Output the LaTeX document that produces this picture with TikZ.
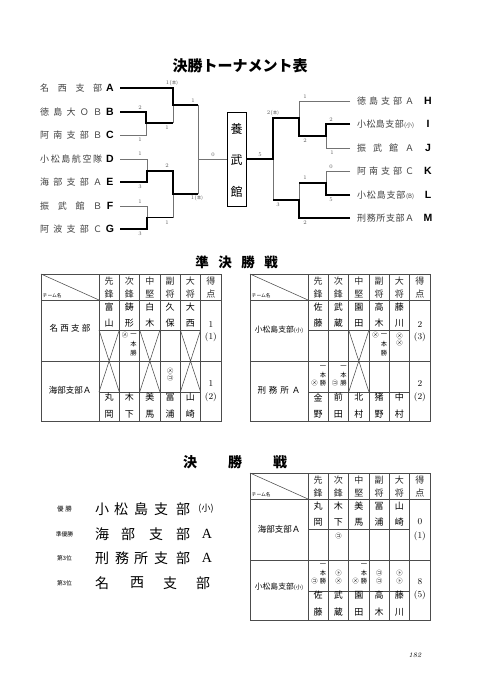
\documentclass[tikz,border=0pt]{standalone}
\usepackage{fontspec}
\newfontfamily\jp{Noto Sans CJK JP}
\newfontfamily\lsb{Liberation Sans}
\newfontfamily\lser{Liberation Serif}
\newcommand\fs[1]{\fontsize{#1}{#1}\selectfont}
\newcommand\tgrid{%
  \draw[tl] (0,0) rectangle (180,147);
  \foreach \x in {58,78.33,98.67,119,139.33,159.67} {\draw[tl] (\x,0) -- (\x,147);}
  \draw[tl] (0,26) -- (180,26) (0,87) -- (180,87) (58,56) -- (159.67,56) (58,118) -- (159.67,118);
  \draw[tl] (0,0) -- (58,26);
  \node[anchor=south west, inner sep=0.5pt, font=\jp\fs{4.8}] at (1,25) {チーム名};
  \foreach \a/\b [count=\i] in {先/鋒,次/鋒,中/堅,副/将,大/将,得/点} {
    \node[hc] at ({58+20.33*(\i-0.5)},7.5) {\a};
    \node[hc] at ({58+20.33*(\i-0.5)},20) {\b};
  }%
}
\newcommand\tnames[2]{%
  \foreach \a/\b [count=\i] in {#2} {
    \node[nc] at ({58+20.33*(\i-0.5)},#1) {\a};
    \node[nc] at ({58+20.33*(\i-0.5)},{#1+16.5}) {\b};
  }%
}
\newcommand\xmk[1]{\draw[tl] ({58+20.33*(#1-1)},56) -- ({58+20.33*#1},118) ({58+20.33*#1},56) -- ({58+20.33*(#1-1)},118);}
\begin{document}
\begin{tikzpicture}[x=1pt,y=-1pt,
  win/.style={line width=1.7pt, black, line join=miter},
  lose/.style={line width=0.7pt, black!55},
  tl/.style={line width=0.55pt, black!70},
  lb/.style={font=\fs{5.5}, text=black!65, inner sep=0},
  nm/.style={font=\jp\fs{9}, text=black!75, inner sep=0, anchor=west},
  teamlet/.style={font=\lsb\bfseries\fs{10.5}, inner sep=0},
  hc/.style={font=\jp\fs{9}, text=black!85, inner sep=0},
  nc/.style={font=\jp\fs{9}, inner sep=0},
  mk/.style={font=\jp\fs{6.3}, inner sep=0},
  sc/.style={font=\fs{9}, inner sep=0},
  tn/.style={font=\jp\fs{8.5}, inner sep=0},
  big/.style={font=\jp\fs{14}, inner sep=0},
  sml/.style={font=\jp\fs{5.8}, inner sep=0},
  ttl/.style={font=\jp\bfseries\fs{13.5}, inner sep=0},
]
\useasboundingbox[fill=white] (0,0) rectangle (480,689);

% ---------- title ----------
\node[font=\jp\bfseries\fs{15}, inner sep=0] (title) at (240,66) {決勝トーナメント表};

% ---------- left teams ----------
\node[nm] (nA) at (40,88)  {\makebox[62pt]{名\hfill 西\hfill 支\hfill 部}};
\node[nm] (nB) at (40,112) {\makebox[62pt]{徳\hfill 島\hfill 大\hfill Ｏ\hfill Ｂ}};
\node[nm] (nC) at (40,135) {\makebox[62pt]{阿\hfill 南\hfill 支\hfill 部\hfill Ｂ}};
\node[nm] (nD) at (40,159) {\makebox[62pt]{小\hfill 松\hfill 島\hfill 航\hfill 空\hfill 隊}};
\node[nm] (nE) at (40,182) {\makebox[62pt]{海\hfill 部\hfill 支\hfill 部\hfill Ａ}};
\node[nm] (nF) at (40,206) {\makebox[62pt]{振\hfill 武\hfill 館\hfill Ｂ}};
\node[nm] (nG) at (40,229) {\makebox[62pt]{阿\hfill 波\hfill 支\hfill 部\hfill Ｃ}};
\node[teamlet] (lA) at (110,88) {A};
\node[teamlet] (lB) at (110,112) {B};
\node[teamlet] (lC) at (110,135) {C};
\node[teamlet] (lD) at (110,159) {D};
\node[teamlet] (lE) at (110,182) {E};
\node[teamlet] (lF) at (110,206) {F};
\node[teamlet] (lG) at (110,229) {G};

% ---------- right teams ----------
\node[nm] (nH) at (357,101) {\makebox[57pt]{徳\hfill 島\hfill 支\hfill 部\hfill Ａ}};
\node[nm] (nI) at (357,124) {\makebox[57pt]{小\hfill 松\hfill 島\hfill 支\hfill 部\hfill {\fs{6}(小)}}};
\node[nm] (nJ) at (357,148) {\makebox[57pt]{振\hfill 武\hfill 館\hfill Ａ}};
\node[nm] (nK) at (357,171) {\makebox[57pt]{阿\hfill 南\hfill 支\hfill 部\hfill Ｃ}};
\node[nm] (nL) at (357,195) {\makebox[57pt]{小\hfill 松\hfill 島\hfill 支\hfill 部\hfill {\fs{6}(B)}}};
\node[nm] (nM) at (357,218) {\makebox[57pt]{刑\hfill 務\hfill 所\hfill 支\hfill 部\hfill Ａ}};
\node[teamlet] (lH) at (428,101) {H};
\node[teamlet] (lI) at (428,124) {I};
\node[teamlet] (lJ) at (428,148) {J};
\node[teamlet] (lK) at (428,171) {K};
\node[teamlet] (lL) at (428,195) {L};
\node[teamlet] (lM) at (428,218) {M};

% ---------- center box ----------
\node[draw, line width=0.6pt, minimum width=19pt, minimum height=94pt, inner sep=0] (box) at (236.5,159) {};
\node[font=\jp\fs{12}, inner sep=0] (b1) at (236.5,129) {養};
\node[font=\jp\fs{12}, inner sep=0] (b2) at (236.5,160) {武};
\node[font=\jp\fs{12}, inner sep=0] (b3) at (236.5,192) {館};

% ---------- left bracket ----------
\draw[lose] (173,105) -- (173,123);
\draw[lose] (120,135) -- (146,135) -- (146,123);
\draw[lose] (120,159) -- (147,159) -- (147,171);
\draw[lose] (120,206) -- (147,206) -- (147,217.5);
\draw[lose] (173,217.5) -- (173,194);
\draw[lose] (198,105) -- (198,194);
\draw[lose] (198,159) -- (box.west);
\draw[win] (120,88) -- (173,88) -- (173,105) -- (198,105);
\draw[win] (120,112) -- (146,112) -- (146,123) -- (173,123);
\draw[win] (120,182) -- (147,182) -- (147,171) -- (173,171) -- (173,194) -- (198,194);
\draw[win] (120,229) -- (147,229) -- (147,217.5) -- (173,217.5);

\node[lb] at (172,83) {1(\jp\fs{4.5}本)};
\node[lb] at (140,108) {2};
\node[lb] at (140,140) {1};
\node[lb] at (167,128) {1};
\node[lb] at (193,101) {1};
\node[lb] at (140,154) {1};
\node[lb] at (140,187) {3};
\node[lb] at (167,166) {2};
\node[lb] at (140,202) {1};
\node[lb] at (140,234) {3};
\node[lb] at (167,223) {1};
\node[lb] at (197,198) {1(\jp\fs{4.5}本)};
\node[lb] at (213,155) {0};

% ---------- right bracket ----------
\draw[lose] (350,101) -- (299,101) -- (299,118);
\draw[lose] (350,148) -- (326,148) -- (326,136);
\draw[lose] (350,171) -- (326,171) -- (326,183);
\draw[lose] (299,183) -- (299,200);
\draw[lose] (273,159) -- (273,200);
\draw[win] (350,124) -- (326,124) -- (326,136) -- (299,136) -- (299,118) -- (273,118) -- (273,159) -- (box.east);
\draw[win] (350,195) -- (326,195) -- (326,183) -- (299,183);
\draw[win] (350,218) -- (299,218) -- (299,200) -- (273,200);

\node[lb] at (273,113) {2(\jp\fs{4.5}本)};
\node[lb] at (260,155) {5};
\node[lb] at (305,97) {1};
\node[lb] at (331,120) {2};
\node[lb] at (332,153) {1};
\node[lb] at (305,141) {2};
\node[lb] at (331,167) {0};
\node[lb] at (331,200) {5};
\node[lb] at (305,178) {1};
\node[lb] at (278,205) {3};
\node[lb] at (305,223) {2};

% ---------- semifinal title ----------
\node[ttl] (s1) at (202,262) {準};
\node[ttl] (s2) at (225,262) {決};
\node[ttl] (s3) at (248,262) {勝};
\node[ttl] (s4) at (271,262) {戦};

% ---------- semifinal left ----------
\begin{scope}[shift={(41,274)}]
  \tgrid
  \tnames{33}{富/山,鋳/形,白/木,久/保,大/西}
  \tnames{123.5}{丸/岡,木/下,美/馬,冨/浦,山/崎}
  \xmk{1}\xmk{3}\xmk{5}
  \node[mk] at (84,61) {㋱};
  \node[mk] at (92.5,61) {一};
  \node[mk] at (92.5,70) {本};
  \node[mk] at (92.5,79) {勝};
  \node[mk] at (129.17,97) {㋱};
  \node[mk] at (129.17,104.5) {㋙};
  \node[tn] (t1) at (29,54) {\makebox[41pt]{名\hfill 西\hfill 支\hfill 部}};
  \node[tn] (t2) at (29,116) {海部支部Ａ};
  \node[sc] at (169.83,50) {1};
  \node[sc] at (169.83,63) {(1)};
  \node[sc] at (169.83,109) {1};
  \node[sc] at (169.83,123) {(2)};
\end{scope}

% ---------- semifinal right ----------
\begin{scope}[shift={(250,274)}]
  \tgrid
  \tnames{33}{佐/藤,武/蔵,園/田,高/木,藤/川}
  \tnames{123.5}{金/野,前/田,北/村,猪/野,中/村}
  \xmk{3}
  \node[mk] at (125.5,61) {㋱};
  \node[mk] at (134,61) {一};
  \node[mk] at (134,70) {本};
  \node[mk] at (134,79) {勝};
  \node[mk] at (149.5,62) {㋱};
  \node[mk] at (149.5,69.5) {㋱};
  \node[mk] at (73,93) {一};
  \node[mk] at (73,101) {本};
  \node[mk] at (64.5,109) {㋱};
  \node[mk] at (73,109) {勝};
  \node[mk] at (93.5,93) {一};
  \node[mk] at (93.5,101) {本};
  \node[mk] at (85,109) {㋙};
  \node[mk] at (93.5,109) {勝};
  \node[tn] (t3) at (29,56) {\fs{7.8}小松島支部{\fs{5.5}(小)}};
  \node[tn] (t4) at (29,116) {\makebox[43pt]{刑\hfill 務\hfill 所\hfill Ａ}};
  \node[sc] at (169.83,50) {2};
  \node[sc] at (169.83,63) {(3)};
  \node[sc] at (169.83,109) {2};
  \node[sc] at (169.83,123) {(2)};
\end{scope}

% ---------- final title ----------
\node[font=\jp\bfseries\fs{14}, inner sep=0] (f1) at (190,462) {決};
\node[font=\jp\bfseries\fs{14}, inner sep=0] (f2) at (235,462) {勝};
\node[font=\jp\bfseries\fs{14}, inner sep=0] (f3) at (280,462) {戦};

% ---------- final table ----------
\begin{scope}[shift={(250,473)}]
  \tgrid
  \tnames{33}{丸/岡,木/下,美/馬,冨/浦,山/崎}
  \tnames{122.5}{佐/藤,武/蔵,園/田,高/木,藤/川}
  \node[mk] at (88.5,63) {㋙};
  \node[mk] at (73,92) {一};
  \node[mk] at (73,100) {本};
  \node[mk] at (64.5,108) {㋙};
  \node[mk] at (73,108) {勝};
  \node[mk] at (88.5,100.5) {㋣};
  \node[mk] at (88.5,108) {㋱};
  \node[mk] at (114,92) {一};
  \node[mk] at (114,100) {本};
  \node[mk] at (105.5,108) {㋱};
  \node[mk] at (114,108) {勝};
  \node[mk] at (129.17,100.5) {㋙};
  \node[mk] at (129.17,108) {㋙};
  \node[mk] at (149.5,100.5) {㋣};
  \node[mk] at (149.5,108) {㋣};
  \node[tn] (t5) at (29,56) {海部支部Ａ};
  \node[tn] (t6) at (29,114) {\fs{7.8}小松島支部{\fs{5.5}(小)}};
  \node[sc] at (169.83,49) {0};
  \node[sc] at (169.83,63) {(1)};
  \node[sc] at (169.83,109) {8};
  \node[sc] at (169.83,122) {(5)};
\end{scope}

% ---------- results list ----------
\node[font=\jp\fs{6.5}, inner sep=0] (r1l) at (64.5,509) {\makebox[15pt]{優\hfill 勝}};
\node[sml] (r2l) at (64.5,534) {準優勝};
\node[sml] (r3l) at (64.5,558) {第3位};
\node[sml] (r4l) at (64.5,583) {第3位};

\foreach \c/\x in {小/102,松/121,島/141,支/161,部/183} {\node[big] at (\x,509) {\c};}
\node[font=\jp\fs{9}, inner sep=0] at (206,509) {(小)};
\foreach \c/\x in {海/102,部/128,支/156,部/183} {\node[big] at (\x,534) {\c};}
\node[font=\lser\fs{14}, inner sep=0] at (207,534) {A};
\foreach \c/\x in {刑/102,務/122,所/141,支/161,部/183} {\node[big] at (\x,558) {\c};}
\node[font=\lser\fs{14}, inner sep=0] at (207,558) {A};
\foreach \c/\x in {名/102,西/137,支/170,部/203} {\node[big] at (\x,583) {\c};}

% ---------- page number ----------
\node[font=\itshape\fs{7}, inner sep=0] (pg) at (415,655) {182};
\end{tikzpicture}
\end{document}
